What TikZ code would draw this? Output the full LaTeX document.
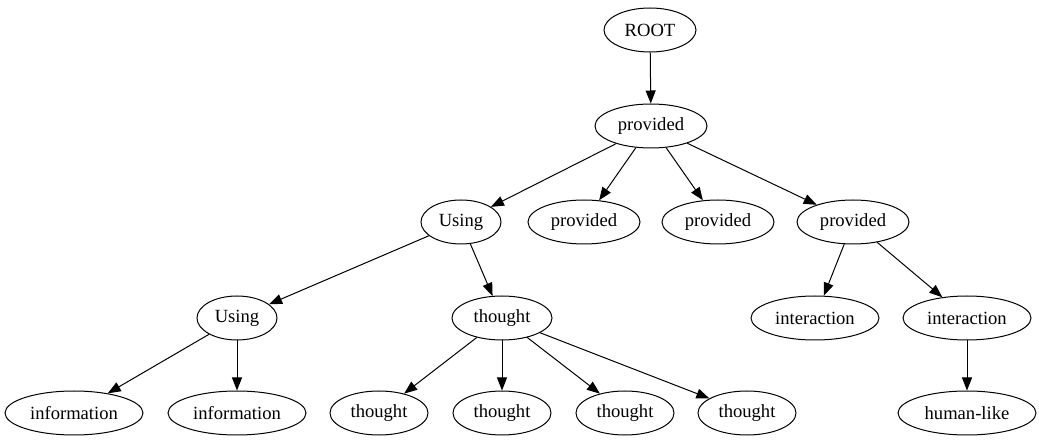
\documentclass[tikz,border=0pt]{standalone}
\usepackage{fontspec}
\setmainfont{Liberation Serif}
\usetikzlibrary{shapes.geometric,arrows.meta}
\begin{document}
\begin{tikzpicture}[x=1pt,y=-1pt,
  tnode/.style={ellipse,draw,line width=1pt,inner sep=0pt,minimum height=44pt,
    font=\fontsize{18.6}{22}\selectfont},
  edge/.style={line width=1pt,-{Triangle[length=13pt,width=10pt]}}]
\useasboundingbox (0,0) rectangle (1039,443);
% level 0 and 1
\node[tnode,minimum width=92pt]  (root) at (650,30)  {ROOT};
\node[tnode,minimum width=112pt] (p0)   at (651,126) {provided};
% level 2
\node[tnode,minimum width=80pt]  (u1)   at (461,222) {Using};
\node[tnode,minimum width=112pt] (p1)   at (584,222) {provided};
\node[tnode,minimum width=112pt] (p2)   at (718,222) {provided};
\node[tnode,minimum width=112pt] (p3)   at (853,222) {provided};
% level 3
\node[tnode,minimum width=80pt]  (u2)   at (237,318) {Using};
\node[tnode,minimum width=100pt] (t0)   at (502,318) {thought};
\node[tnode,minimum width=128pt] (i1)   at (815,318) {interaction};
\node[tnode,minimum width=128pt] (i2)   at (967,318) {interaction};
% level 4
\node[tnode,minimum width=138pt] (f1)   at (74,413)  {information};
\node[tnode,minimum width=138pt] (f2)   at (237,413) {information};
\node[tnode,minimum width=98pt]  (t1)   at (379,413) {thought};
\node[tnode,minimum width=98pt]  (t2)   at (502,413) {thought};
\node[tnode,minimum width=98pt]  (t3)   at (625,413) {thought};
\node[tnode,minimum width=98pt]  (t4)   at (747,413) {thought};
\node[tnode,minimum width=138pt] (h1)   at (967,413) {human-like};
% edges
\draw[edge] (root) -- (p0);
\draw[edge] (p0) -- (u1);
\draw[edge] (p0) -- (p1);
\draw[edge] (p0) -- (p2);
\draw[edge] (p0) -- (p3);
\draw[edge] (u1) -- (u2);
\draw[edge] (u1) -- (t0);
\draw[edge] (p3) -- (i1);
\draw[edge] (p3) -- (i2);
\draw[edge] (u2) -- (f1);
\draw[edge] (u2) -- (f2);
\draw[edge] (t0) -- (t1);
\draw[edge] (t0) -- (t2);
\draw[edge] (t0) -- (t3);
\draw[edge] (t0) -- (t4);
\draw[edge] (i2) -- (h1);
\end{tikzpicture}
\end{document}
